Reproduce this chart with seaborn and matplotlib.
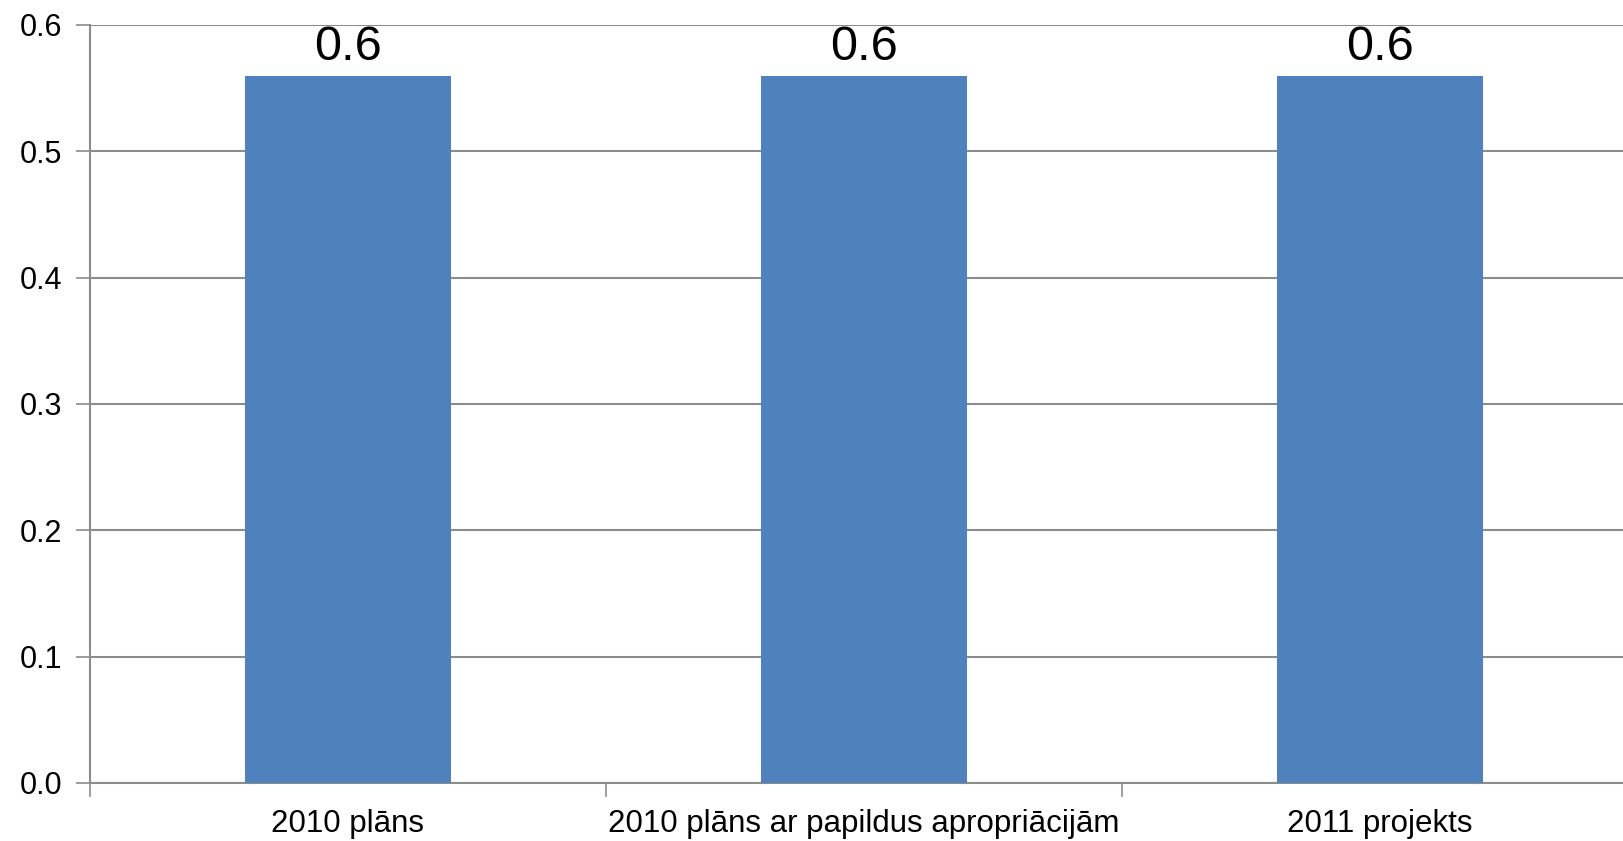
import pandas as pd
import matplotlib.pyplot as plt
import seaborn as sns

categories = ['2010 plāns', '2010 plāns ar papildus apropriācijām', '2011 projekts']
values = [0.56, 0.56, 0.56]
labels = ['0.6', '0.6', '0.6']

df = pd.DataFrame({'category': categories, 'value': values})

sns.set_style('white')
plt.rcParams['font.family'] = ['Liberation Sans', 'DejaVu Sans']
plt.rcParams['text.color'] = 'black'
plt.rcParams['xtick.color'] = 'black'
plt.rcParams['ytick.color'] = 'black'

fig = plt.figure(figsize=(16.24, 8.41), dpi=100)
ax = fig.add_axes([90 / 1624, 58 / 841, 1548 / 1624, 758 / 841])

sns.barplot(data=df, x='category', y='value', color='#4F81BD', width=0.4,
            saturation=1, linewidth=0, edgecolor='none', ax=ax, zorder=3)

# value labels above bars
for i, lab in enumerate(labels):
    ax.text(i, values[i] + 0.004, lab, ha='center', va='bottom', fontsize=35, color='black')

ax.set_ylim(0, 0.6)
ax.set_xlim(-0.5, 2.5)
ax.set_yticks([0.0, 0.1, 0.2, 0.3, 0.4, 0.5, 0.6])
ax.set_yticklabels(['0.0', '0.1', '0.2', '0.3', '0.4', '0.5', '0.6'])
ax.yaxis.grid(True, color='#8c8c8c', linewidth=1.5, zorder=0)
ax.set_axisbelow(True)

# category separators on the x axis
ax.set_xticks([-0.5, 0.5, 1.5], minor=True)
ax.tick_params(axis='x', which='minor', bottom=True, length=10, width=1.2, color='#8c8c8c', direction='out')
ax.tick_params(axis='x', which='major', bottom=True, length=0, labelsize=22.5, pad=19, labelcolor='black')
ax.tick_params(axis='y', left=True, length=10, width=1.2, color='#8c8c8c', labelsize=22, pad=10,
               direction='out', labelcolor='black')

for side in ['top', 'right']:
    ax.spines[side].set_visible(False)
for side in ['left', 'bottom']:
    ax.spines[side].set_color('#8c8c8c')
    ax.spines[side].set_linewidth(1.5)

ax.set_xlabel('')
ax.set_ylabel('')

plt.savefig('out.png', dpi=100)
plt.close()
